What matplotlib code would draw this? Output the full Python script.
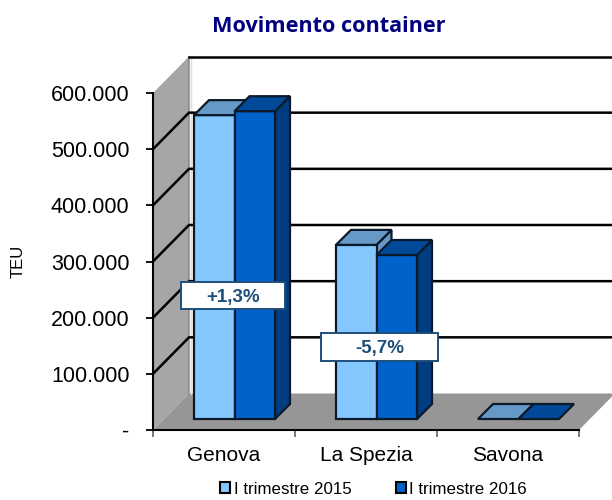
import matplotlib
matplotlib.use('Agg')
import matplotlib.pyplot as plt
from matplotlib.patches import Polygon, Rectangle, Patch

# values
ports = ['Genova', 'La Spezia', 'Savona']
teu_2015 = [541000, 310000, 0]
teu_2016 = [548000, 292000, 0]
series_names = ['I trimestre 2015', 'I trimestre 2016']
y_ticks = [0, 100000, 200000, 300000, 400000, 500000, 600000]
y_labels = ['-', '100.000', '200.000', '300.000', '400.000', '500.000', '600.000']
change_labels = ['+1,3%', '-5,7%']

W, H = 612, 500
LEFT, RIGHT, BOTTOM, TOP = 153, 579, 430, 93
YMAX = 600000
XU = RIGHT - LEFT   # pixels for the whole x axis
YU = (BOTTOM - TOP) / YMAX

fig = plt.figure(figsize=(W / 100, H / 100), dpi=100)
ax = fig.add_axes([LEFT / W, 1 - BOTTOM / H, (RIGHT - LEFT) / W, (BOTTOM - TOP) / H])
ax.set_xlim(0, 3)
ax.set_ylim(0, YMAX)
ax.patch.set_visible(False)

XP = 3 / XU  # x units per pixel
YP = 1 / YU  # y units per pixel
dx, dy = 36 * XP, 36.5 * YP
bdx, bdy = 15 * XP, 15 * YP


def shape(pts, color, edge='none', lw=0, z=1):
    ax.add_patch(Polygon(pts, closed=True, facecolor=color, edgecolor=edge, linewidth=lw,
                         zorder=z, clip_on=False, joinstyle='miter'))


# walls and floor
shape([(0, 0), (dx, dy), (dx, YMAX + dy), (0, YMAX)], '#A6A6A6', z=1)
shape([(0, 0), (3, 0), (3 + dx, dy), (dx, dy)], '#969696', z=1)
ax.plot([dx, dx], [dy, YMAX + dy], color='#8C8C8C', lw=1.2, zorder=1.5, clip_on=False)
ax.plot([dx + 1.5 * XP, dx + 1.5 * XP], [dy, YMAX + dy], color='#DDDDDD', lw=1, zorder=1.5, clip_on=False)

# grid lines, side wall then back wall (the top one has no diagonal)
for v in y_ticks[1:-1]:
    ax.plot([0, dx, 3 + dx], [v, v + dy, v + dy], color='black', lw=1.8, zorder=2,
            clip_on=False, solid_joinstyle='miter')
ax.plot([dx, 3 + dx], [YMAX + dy, YMAX + dy], color='black', lw=1.8, zorder=2, clip_on=False)


def bar3d(x, w, h, front, top, side):
    y0 = 11 * YP
    ec = '#0B1A2B'
    lw = 1.6
    if h > 0:
        shape([(x + w, y0), (x + w + bdx, y0 + bdy), (x + w + bdx, y0 + h + bdy), (x + w, y0 + h)],
              side, ec, lw, 3)
        shape([(x, y0), (x + w, y0), (x + w, y0 + h), (x, y0 + h)], front, ec, lw, 3)
    shape([(x, y0 + h), (x + w, y0 + h), (x + w + bdx, y0 + h + bdy), (x + bdx, y0 + h + bdy)],
          top, ec, lw, 3)


colors_2015 = ('#85C8FF', '#6699C6', '#6699C6')
colors_2016 = ('#0063CC', '#004A99', '#003D80')
bar_w = 40.5 * XP
for i in range(len(ports)):
    x = i + 41 * XP
    bar3d(x, bar_w, teu_2015[i], *colors_2015)
    bar3d(x + bar_w, bar_w, teu_2016[i], *colors_2016)

# boxes with the percent change
boxes = [(181, 282, 285, 309), (321, 333, 438, 361)]
for lab, (x0, y0, x1, y1) in zip(change_labels, boxes):
    bx0, bx1 = (x0 - LEFT) * XP, (x1 - LEFT) * XP
    by0, by1 = (BOTTOM - y1) * YP, (BOTTOM - y0) * YP
    ax.add_patch(Rectangle((bx0, by0), bx1 - bx0, by1 - by0, facecolor='white',
                           edgecolor='#1F4E79', lw=1.4, zorder=5, clip_on=False))
    ax.text((bx0 + bx1) / 2, (by0 + by1) / 2 - 2 * YP, lab, ha='center', va='center', color='#1F4E79',
            fontsize=13.5, fontweight='bold', family='Liberation Sans', zorder=6)

# axes
for s in ['top', 'right']:
    ax.spines[s].set_visible(False)
for s in ['left', 'bottom']:
    ax.spines[s].set_linewidth(1.5)
    ax.spines[s].set_zorder(4)
ax.set_yticks(y_ticks)
ax.set_yticklabels(y_labels, fontsize=15.5, family='Liberation Sans')
ax.tick_params(axis='y', length=5, width=1.3, pad=12)
ax.set_xticks([0, 1, 2, 3])
ax.set_xticklabels([])
ax.tick_params(axis='x', length=5, width=1.1, color='#555555')
ax.set_xticks([0.5, 1.5, 2.5], minor=True)
ax.set_xticklabels(ports, minor=True, fontsize=15, family='Liberation Sans')
ax.tick_params(axis='x', which='minor', length=0, pad=11.5)

fig.text(18 / W, 1 - 261 / H, 'TEU', rotation=90, ha='center', va='center',
         fontsize=12, family='Liberation Sans')
fig.text(329 / W, 1 - 26.5 / H, 'Movimento container', ha='center', va='center', color='#000080',
         fontsize=15.6, fontweight='bold', family='Open Sans')

handles = [Patch(facecolor=colors_2015[0], edgecolor='black', lw=1.5),
           Patch(facecolor=colors_2016[0], edgecolor='black', lw=1.5)]
fig.legend(handles, series_names, loc='center', bbox_to_anchor=(373.5 / W, 1 - 489 / H), ncol=2,
           frameon=False, prop={'family': 'Liberation Sans', 'size': 12.2}, handlelength=0.6,
           handleheight=0.6, handletextpad=0.2, columnspacing=2.6, borderpad=0)

fig.savefig('out.png', dpi=100)
